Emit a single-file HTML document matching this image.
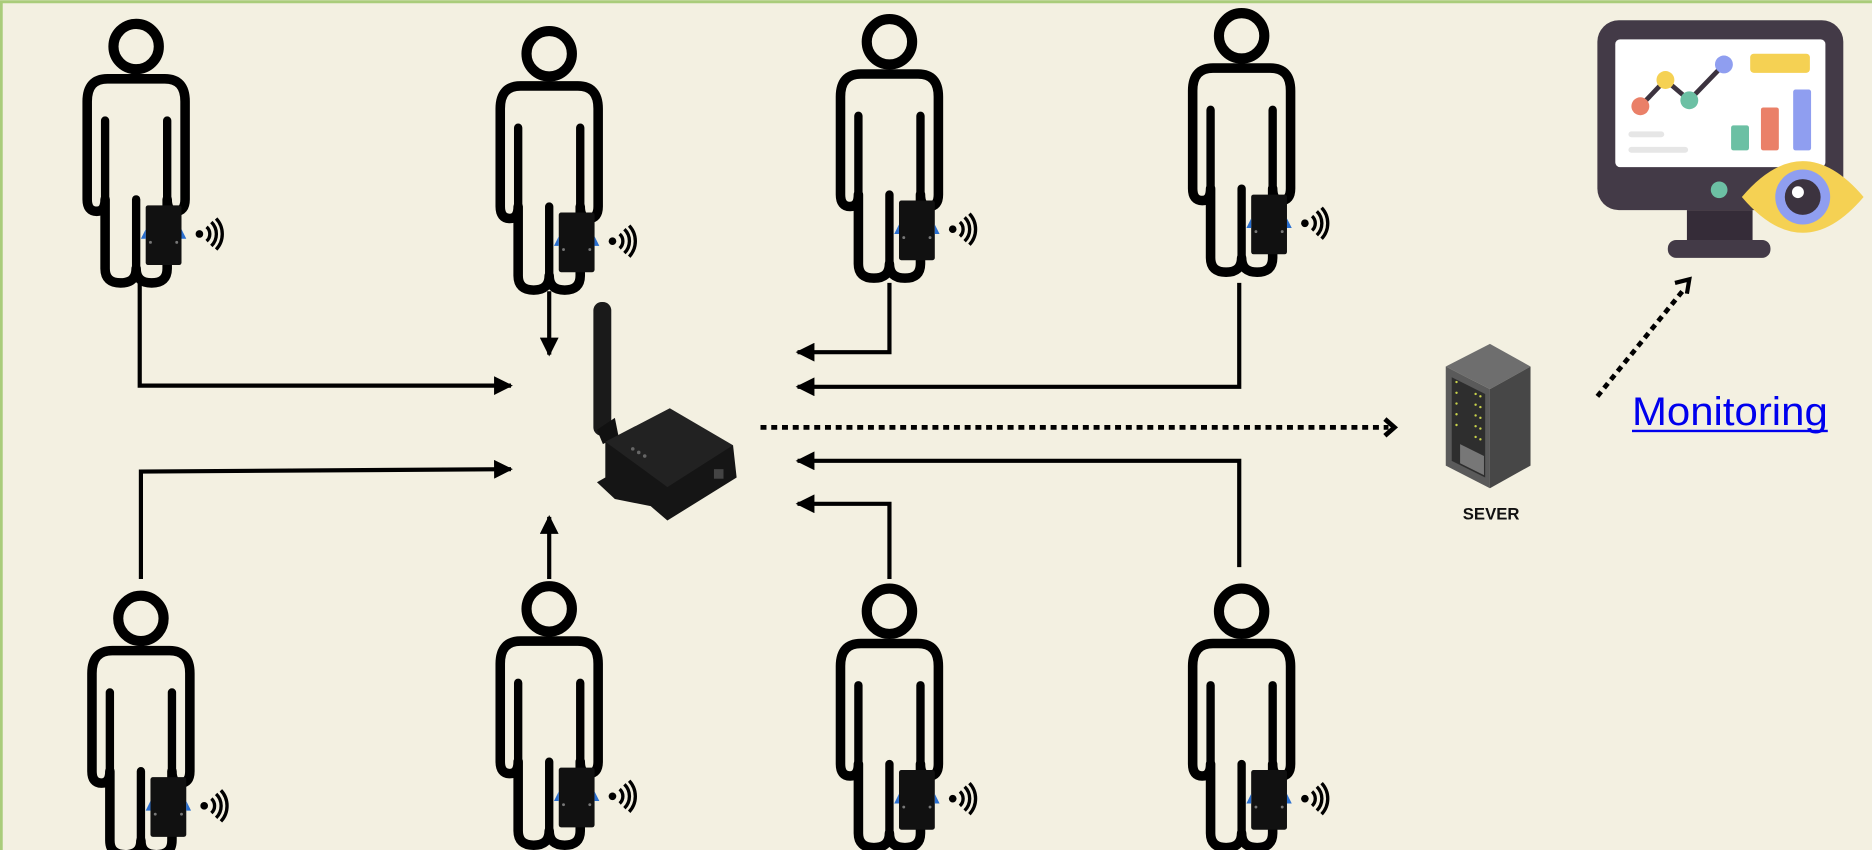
<!DOCTYPE html>
<html><head><meta charset="utf-8"><style>
html,body{margin:0;padding:0;background:#f3f0e1;}
svg{display:block;}
</style></head><body>
<svg width="1872" height="850" viewBox="0 0 1568 712" xmlns="http://www.w3.org/2000/svg">
<defs>
<g id="person">
 <circle cx="0" cy="0" r="19" fill="none" stroke="#000" stroke-width="8.5"/>
 <path d="M-24,27 Q-41,27 -41,46 L-41,128 Q-41,138 -33,138 Q-26,138 -26,128 L-26,186 Q-26,198 -13,198 Q0,198 0,186 Q0,198 13,198 Q26,198 26,186 L26,128 Q26,138 33,138 Q41,138 41,128 L41,46 Q41,27 24,27 Z" fill="none" stroke="#000" stroke-width="8" stroke-linejoin="round"/>
 <path d="M-26,62 L-26,128 M26,62 L26,128 M0,128 L0,188" stroke="#000" stroke-width="7" stroke-linecap="round"/>
 <g transform="translate(8,133)">
  <rect x="0" y="0" width="30" height="50" fill="#111" rx="2"/>
  <path d="M0,20 L-4,28 L0,28 Z M30,20 L34,28 L30,28 Z" fill="#2a6fd0"/>
  <circle cx="4" cy="31" r="1.2" fill="#777"/><circle cx="26" cy="31" r="1.2" fill="#777"/>
 </g>
 <g transform="translate(53,157)" fill="none" stroke="#000" stroke-width="2.8">
  <circle cx="0" cy="0" r="3.2" fill="#000" stroke="none"/>
  <path d="M6,-6 A8,8 0 0 1 6,6"/>
  <path d="M10,-10 A14,14 0 0 1 10,10"/>
  <path d="M14,-13 A19,19 0 0 1 14,13"/>
 </g>
</g>
<marker id="ah" viewBox="0 0 10 10" refX="9" refY="5" markerWidth="4.5" markerHeight="4.5" orient="auto-start-reverse"><path d="M0,0 L10,5 L0,10 Z" fill="#000"/></marker>
</defs>
<rect x="0" y="0" width="1568" height="712" fill="#f3f0e1"/>
<path d="M1,712 L1,1.5 L1568,1.5" fill="none" stroke="#a9cc7a" stroke-width="2.5"/>

<use href="#person" x="114" y="39"/>
<use href="#person" x="460" y="45"/>
<use href="#person" x="745" y="35"/>
<use href="#person" x="1040" y="30"/>
<use href="#person" x="118" y="518"/>
<use href="#person" x="460" y="510"/>
<use href="#person" x="745" y="512"/>
<use href="#person" x="1040" y="512"/>

<g fill="none" stroke="#000" stroke-width="3.5">
 <path d="M117,237 L117,323 L428,323" marker-end="url(#ah)"/>
 <path d="M460,244 L460,297" marker-end="url(#ah)"/>
 <path d="M745,237 L745,295 L668,295" marker-end="url(#ah)"/>
 <path d="M1038,237 L1038,324 L668,324" marker-end="url(#ah)"/>
 <path d="M118,485 L118,395 L428,393" marker-end="url(#ah)"/>
 <path d="M460,485 L460,433" marker-end="url(#ah)"/>
 <path d="M745,485 L745,422 L668,422" marker-end="url(#ah)"/>
 <path d="M1038,475 L1038,386 L668,386" marker-end="url(#ah)"/>
 <path d="M637,358 L1163,358" stroke-dasharray="5,4" stroke-width="4"/>
 <path d="M1160,351 L1168,358 L1160,365" stroke-width="4"/>
 <path d="M1338,332 L1410,243" stroke-dasharray="5,4" stroke-width="4"/>
 <path d="M1403,237 L1415,234 L1413,246" stroke-width="3.5"/>
</g>

<!-- router -->
<rect x="497" y="253" width="15" height="112" rx="7" fill="#1a1a1a"/>
<path d="M500,360 L515,350 L518,365 L505,372 Z" fill="#111"/>
<path d="M507,370 L507,400 L500,404 L515,418 L545,424 L559,436 L617,400 L614,373 Z" fill="#151515"/>
<path d="M507,370 L561,342 L614,373 L559,408 Z" fill="#222"/>
<rect x="598" y="393" width="8" height="8" fill="#444"/>
<circle cx="530" cy="376" r="1.5" fill="#666"/><circle cx="535" cy="379" r="1.5" fill="#666"/><circle cx="540" cy="382" r="1.5" fill="#666"/>

<!-- server -->
<path d="M1211,307 L1248,288 L1282,307 L1248,326 Z" fill="#6e6e6e"/>
<path d="M1211,307 L1248,326 L1248,409 L1211,390 Z" fill="#5a5a5a"/>
<path d="M1248,326 L1282,307 L1282,390 L1248,409 Z" fill="#474747"/>
<path d="M1216,316 L1244,330 L1244,400 L1216,386 Z" fill="#2e2e2e"/>
<g fill="#c8d24a">
<circle cx="1220" cy="320" r="1"/><circle cx="1236" cy="330" r="1"/><circle cx="1240" cy="332" r="1"/>
<circle cx="1220" cy="329" r="1"/><circle cx="1236" cy="339" r="1"/><circle cx="1240" cy="341" r="1"/>
<circle cx="1220" cy="338" r="1"/><circle cx="1236" cy="348" r="1"/><circle cx="1240" cy="350" r="1"/>
<circle cx="1220" cy="347" r="1"/><circle cx="1236" cy="357" r="1"/><circle cx="1240" cy="359" r="1"/>
<circle cx="1220" cy="356" r="1"/><circle cx="1236" cy="366" r="1"/><circle cx="1240" cy="368" r="1"/>
</g>
<path d="M1223,372 L1243,382 L1243,398 L1223,388 Z" fill="#777"/>
<text x="1249" y="435" font-family="Liberation Sans, sans-serif" font-weight="bold" font-size="14" text-anchor="middle" fill="#111">SEVER</text>

<!-- Monitoring link -->
<text x="1367" y="356" font-family="Liberation Sans, sans-serif" font-size="33" fill="#0000ee" textLength="164" lengthAdjust="spacingAndGlyphs">Monitoring</text>
<rect x="1367" y="360" width="164" height="2" fill="#0000ee"/>

<!-- monitor -->
<rect x="1338" y="17" width="206" height="159" rx="18" fill="#433a47"/>
<rect x="1353" y="33" width="176" height="107" rx="4" fill="#fff"/>
<rect x="1413" y="176" width="55" height="26" fill="#352c38"/>
<rect x="1397" y="201" width="86" height="15" rx="7" fill="#433a47"/>
<circle cx="1440" cy="159" r="7" fill="#6cc0a4"/>
<path d="M1374,89 L1395,67 L1415,84 L1444,54" fill="none" stroke="#3c333f" stroke-width="4"/>
<circle cx="1374" cy="89" r="7.5" fill="#ea8068"/>
<circle cx="1395" cy="67" r="7.5" fill="#f5d153"/>
<circle cx="1415" cy="84" r="7.5" fill="#6cc0a4"/>
<circle cx="1444" cy="54" r="7.5" fill="#8f9ef0"/>
<rect x="1466" y="45" width="50" height="16" rx="3" fill="#f5d153"/>
<rect x="1450" y="105" width="15" height="21" rx="2" fill="#6cc0a4"/>
<rect x="1475" y="90" width="15" height="36" rx="2" fill="#ea8068"/>
<rect x="1502" y="75" width="15" height="51" rx="2" fill="#8f9ef0"/>
<rect x="1364" y="110" width="30" height="5" rx="2.5" fill="#e6e6e6"/>
<rect x="1364" y="123" width="50" height="5" rx="2.5" fill="#e6e6e6"/>
<path d="M1459,165 Q1510,105 1561,165 Q1510,225 1459,165 Z" fill="#f5d153"/>
<circle cx="1510" cy="165" r="23" fill="#8f9ef0"/>
<circle cx="1510" cy="165" r="15" fill="#3c333f"/>
<circle cx="1506" cy="161" r="5" fill="#fff"/>
</svg>
</body></html>
